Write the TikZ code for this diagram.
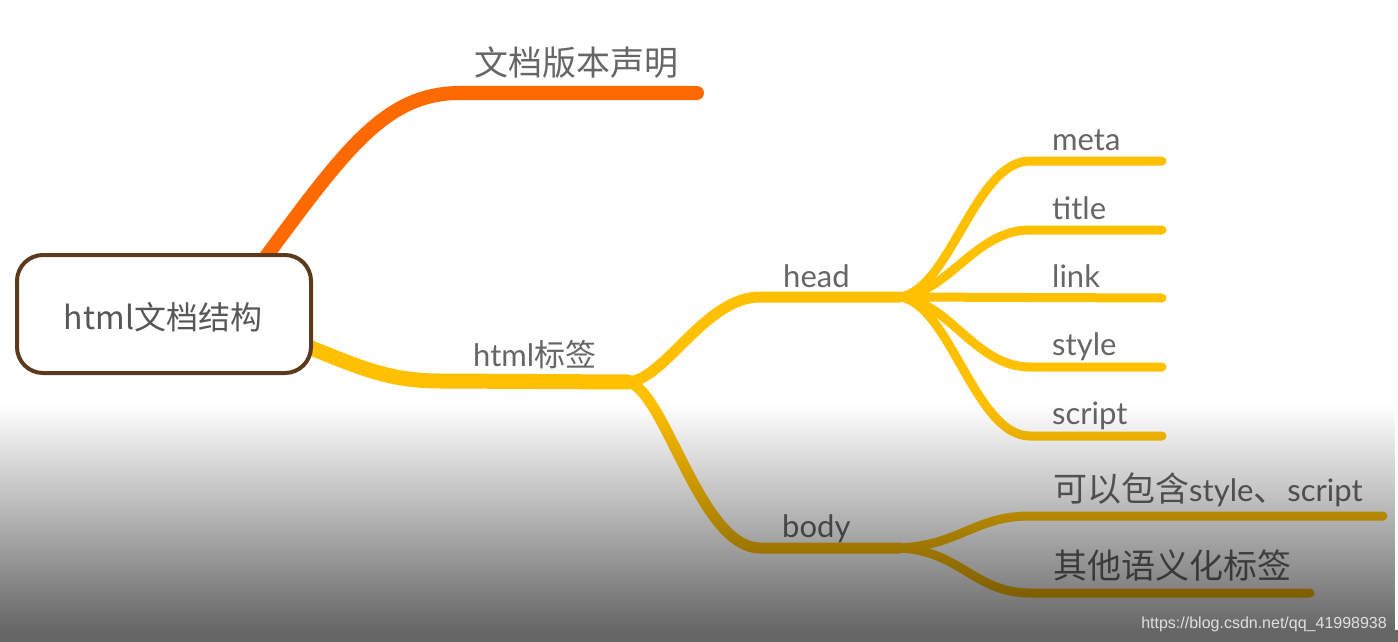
\documentclass[tikz,border=0pt]{standalone}
\usepackage{fontspec}
\setmainfont{Lato}
\newfontfamily\cjk{Noto Sans CJK SC}
\newfontfamily\wmfont{Liberation Sans}
\usetikzlibrary{fadings}
\tikzfading[name=fadeov, top color=transparent!100, middle color=transparent!35, bottom color=transparent!0]
\definecolor{orng}{HTML}{FF6A00}
\definecolor{gold}{HTML}{FFC000}
\definecolor{txt}{HTML}{666666}
\definecolor{boxbrd}{HTML}{5E3A1C}
\begin{document}
\begin{tikzpicture}[x=1pt,y=-1pt,
  br/.style={line cap=round, line width=#1, draw=gold},
  lbl/.style={anchor=base west, inner sep=0pt, text=txt, font=\fontsize{31}{36}\selectfont},
  clbl/.style={anchor=base west, inner sep=0pt, text=txt, font=\fontsize{34}{40}\selectfont\cjk}]
\useasboundingbox (0,0) rectangle (1398,642);
\fill[white] (0,0) rectangle (1398,642);
% junctions and ends
\coordinate (o1) at (262,262);
\coordinate (oe) at (697,93);
\coordinate (h0) at (290,340);
\coordinate (hj) at (628,382);
\coordinate (hdj) at (900,297);
\coordinate (bdj) at (900,548);
\coordinate (me) at (1162,161);
\coordinate (te) at (1162,230);
\coordinate (le) at (1162,298);
\coordinate (se) at (1162,367);
\coordinate (sce) at (1162,436);
\coordinate (b1) at (1383,516);
\coordinate (b2) at (1310,593);
% branches
\draw[br=14pt, draw=orng] (o1) .. controls (345,150) and (385,93) .. (460,93) -- (oe);
\draw[br=15pt] (h0) .. controls (350,362) and (380,381) .. (440,381) -- (hj);
\draw[br=11pt] (hj) .. controls (665,380) and (705,297) .. (760,297) -- (hdj);
\draw[br=11pt] (hj) .. controls (665,390) and (700,548) .. (760,548) -- (bdj);
\draw[br=9pt] (hdj) .. controls (950,290) and (975,161) .. (1030,161) -- (me);
\draw[br=9pt] (hdj) .. controls (950,292) and (975,230) .. (1030,230) -- (te);
\draw[br=9pt] (hdj) -- (le);
\draw[br=9pt] (hdj) .. controls (950,302) and (975,367) .. (1030,367) -- (se);
\draw[br=9pt] (hdj) .. controls (950,304) and (975,436) .. (1030,436) -- (sce);
\draw[br=9pt] (bdj) .. controls (960,545) and (975,516) .. (1030,516) -- (b1);
\draw[br=9pt] (bdj) .. controls (960,551) and (975,593) .. (1030,593) -- (b2);
% root box
\node[draw=boxbrd, line width=4pt, rounded corners=26pt, fill=white,
      minimum width=294pt, minimum height=118pt, inner sep=0pt] (root) at (164,314) {};
\node[anchor=base, inner sep=0pt, text=txt!110, font=\fontsize{32}{38}\selectfont\cjk] (roottxt) at (163,329) {html文档结构};
% labels
\node[clbl] (ver) at (474,76) {文档版本声明};
\node[lbl] (htag) at (473,366) {html{\cjk 标签}};
\node[lbl] (head) at (783,287) {head};
\node[lbl] (body) at (782,537) {body};
\node[lbl] (meta) at (1052,150) {meta};
\node[lbl] (title) at (1052,219) {title};
\node[lbl] (link) at (1052,287) {link};
\node[lbl] (style) at (1052,355) {style};
\node[lbl] (script) at (1052,424) {script};
\node[lbl] (inc) at (1053,501) {{\fontsize{34}{40}\selectfont\cjk 可以包含}style{\fontsize{34}{40}\selectfont\cjk 、}script};
\node[clbl] (other) at (1053,578) {其他语义化标签};
% gray overlay
\fill[black, fill opacity=0.6, path fading=fadeov] (0,405) rectangle (1398,630);
\fill[black, fill opacity=0.6] (0,630) rectangle (1398,642);
% watermark
\node[anchor=base east, inner sep=0pt, text=white!88!black, font=\fontsize{16}{19}\selectfont\wmfont] (wm) at (1387,628) {https://blog.csdn.net/qq\_41998938};
\end{tikzpicture}
\end{document}
